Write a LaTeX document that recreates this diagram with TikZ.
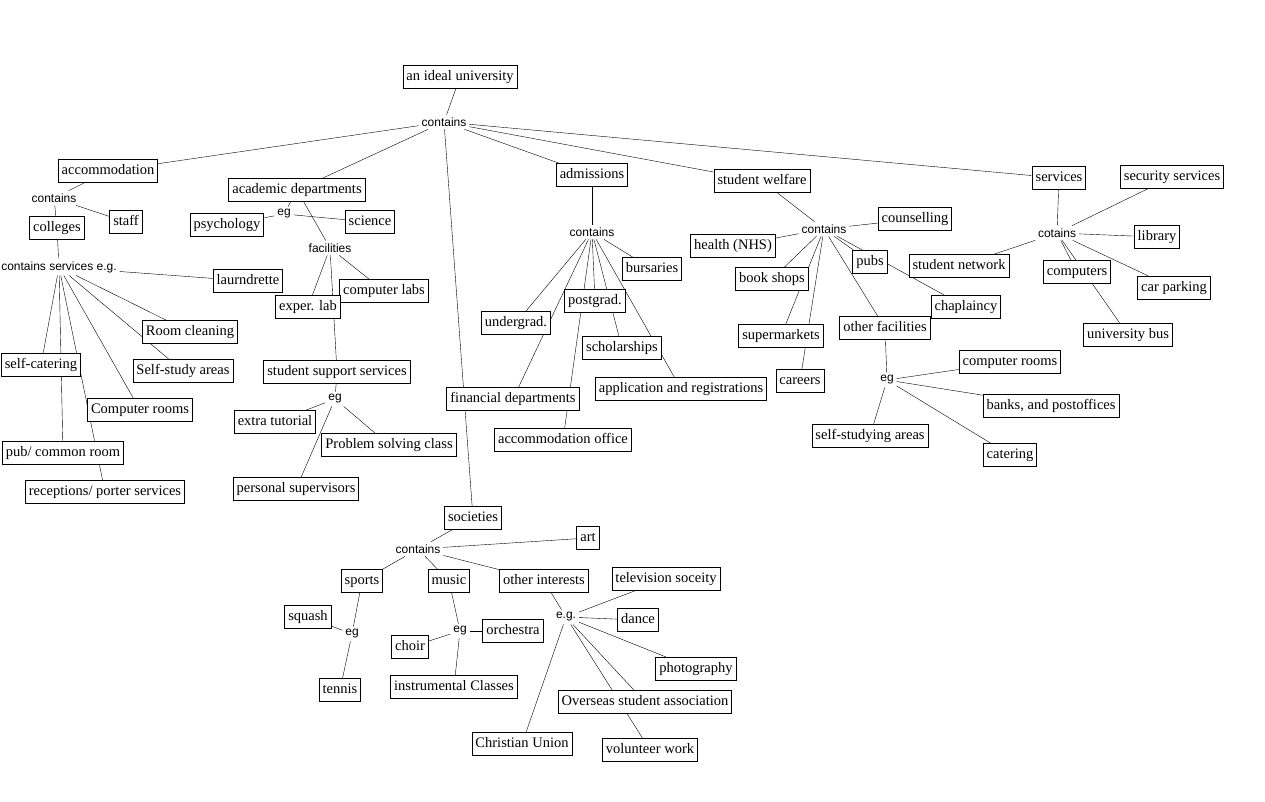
\documentclass[tikz,border=0pt]{standalone}
\usepackage{fontspec}
\setmainfont{Liberation Serif}
\setsansfont{Liberation Sans}
\usetikzlibrary{backgrounds}

\begin{document}
\begin{tikzpicture}[x=1pt,y=-1pt,line width=0.9pt,
    box/.style={draw,fill=white,font=\fontsize{14.5}{17}\selectfont,inner xsep=3.5pt,inner ysep=0pt,text height=10.5pt,text depth=3pt,minimum height=23pt},
    lbl/.style={font=\sffamily\fontsize{12}{14}\selectfont,inner sep=2.5pt}]
    \useasboundingbox (0,0) rectangle (1265,802);

    % top
    \node[box] (u) at (460,77) {an ideal university};
    \node[lbl] (c0) at (444,122) {contains};

    % accommodation
    \node[box] (acc) at (108,171) {accommodation};
    \node[lbl] (c1) at (54,198) {contains};
    \node[box] (staff) at (126,222) {staff};
    \node[box] (coll) at (57,228) {colleges};
    \node[lbl] (c2) at (59,267) {contains services e.g.};
    \node[box] (laun) at (248,281) {laurndrette};
    \node[box] (clean) at (190,332) {Room cleaning};
    \node[box] (sstudy) at (183,371) {Self-study areas};
    \node[box] (scat) at (41,365) {self-catering};
    \node[box] (crooms) at (140,410) {Computer rooms};
    \node[box] (pub) at (63,453) {pub/ common room};
    \node[box] (recep) at (105,492) {receptions/ porter services};

    % academic departments
    \node[box] (acad) at (297,190) {academic departments};
    \node[lbl] (eg1) at (284,214) {eg};
    \node[box] (psy) at (227,225) {psychology};
    \node[box] (sci) at (370,222) {science};
    \node[lbl] (fac) at (330,248) {facilities};
    \node[box] (clabs) at (384,291) {computer labs};
    \node[box] (exp) at (308,307) {exper. lab};
    \node[box] (ssup) at (337,372) {student support services};
    \node[lbl] (eg2) at (335,399) {eg};
    \node[box] (tut) at (275,422) {extra tutorial};
    \node[box] (prob) at (389,445) {Problem solving class};
    \node[box] (pers) at (296,489) {personal supervisors};

    % admissions
    \node[box] (adm) at (592,175) {admissions};
    \node[lbl] (c3) at (592,232) {contains};
    \node[box] (burs) at (652,269) {bursaries};
    \node[box] (fin) at (513,399) {financial departments};
    \node[box] (pg) at (595,301) {postgrad.};
    \node[box] (ug) at (516,323) {undergrad.};
    \node[box] (schol) at (622,348) {scholarships};
    \node[box] (appl) at (681,389) {application and registrations};
    \node[box] (aoff) at (563,440) {accommodation office};

    % student welfare
    \node[box] (welf) at (762,181) {student welfare};
    \node[lbl] (c4) at (824,229) {contains};
    \node[box] (couns) at (915,219) {counselling};
    \node[box] (nhs) at (733,246) {health (NHS)};
    \node[box] (books) at (772,279) {book shops};
    \node[box] (pubs) at (870,262) {pubs};
    \node[box] (snet) at (959,266) {student network};
    \node[box] (chap) at (966,307) {chaplaincy};
    \node[box] (smkt) at (781,336) {supermarkets};
    \node[box] (ofac) at (885,328) {other facilities};
    \node[box] (car) at (800,381) {careers};
    \node[lbl] (eg3) at (887,380) {eg};
    \node[box] (croom) at (1010,362) {computer rooms};
    \node[box] (bank) at (1051,406) {banks, and postoffices};
    \node[box] (sarea) at (870,436) {self-studying areas};
    \node[box] (cater) at (1010,455) {catering};

    % services
    \node[box] (serv) at (1059,178) {services};
    \node[lbl] (c5) at (1057,233) {cotains};
    \node[box] (sec) at (1172,177) {security services};
    \node[box] (lib) at (1157,237) {library};
    \node[box] (comp) at (1077,272) {computers};
    \node[box] (park) at (1174,288) {car parking};
    \node[box] (bus) at (1128,335) {university bus};

    % societies
    \node[box] (soc) at (473,518) {societies};
    \node[lbl] (c6) at (418,549) {contains};
    \node[box] (art) at (588,538) {art};
    \node[box] (sport) at (362,581) {sports};
    \node[box] (mus) at (449,581) {music};
    \node[box] (oint) at (544,581) {other interests};
    \node[box] (squash) at (308,617) {squash};
    \node[lbl] (eg4) at (352,634) {eg};
    \node[box] (tennis) at (340,690) {tennis};
    \node[lbl] (eg5) at (460,631) {eg};
    \node[box] (choir) at (410,647) {choir};
    \node[box] (orch) at (513,631) {orchestra};
    \node[box] (instr) at (454,687) {instrumental Classes};
    \node[lbl] (eg6) at (566,617) {e.g.};
    \node[box] (tv) at (666,579) {television soceity};
    \node[box] (dance) at (638,620) {dance};
    \node[box] (photo) at (696,669) {photography};
    \node[box] (osa) at (645,702) {Overseas student association};
    \node[box] (cu) at (522,744) {Christian Union};
    \node[box] (vol) at (650,750) {volunteer work};

    \begin{pgfonlayer}{background}
    \fill[white] (0,0) rectangle (1265,802);
    \draw (u)--(c0);
    \draw (c0)--(acc);
    \draw (c0)--(acad);
    \draw (c0)--(adm);
    \draw (c0)--(welf);
    \draw (c0)--(serv);
    \draw (c0)--(soc);

    \draw (acc)--(c1);
    \draw (c1)--(coll);
    \draw (c1)--(staff);
    \draw (coll)--(c2);
    \draw (c2)--(laun);
    \draw (c2)--(clean);
    \draw (c2)--(sstudy);
    \draw (c2)--(scat);
    \draw (c2)--(crooms);
    \draw (c2)--(pub);
    \draw (c2)--(recep);

    \draw (acad)--(eg1);
    \draw (eg1)--(psy);
    \draw (eg1)--(sci);
    \draw (acad)--(fac);
    \draw (fac)--(exp);
    \draw (fac)--(clabs);
    \draw (fac)--(ssup);
    \draw (ssup)--(eg2);
    \draw (eg2)--(tut);
    \draw (eg2)--(prob);
    \draw (eg2)--(pers);

    \draw (adm)--(c3);
    \draw (c3)--(burs);
    \draw (c3)--(pg);
    \draw (c3)--(ug);
    \draw (c3)--(fin);
    \draw (c3)--(aoff);
    \draw (c3)--(schol);
    \draw (c3)--(appl);

    \draw (welf)--(c4);
    \draw (c4)--(couns);
    \draw (c4)--(nhs);
    \draw (c4)--(books);
    \draw (c4)--(smkt);
    \draw (c4)--(car);
    \draw (c4)--(ofac);
    \draw (c4)--(pubs);
    \draw (c4)--(chap);
    \draw (ofac)--(eg3);
    \draw (eg3)--(croom);
    \draw (eg3)--(bank);
    \draw (eg3)--(sarea);
    \draw (eg3)--(cater);

    \draw (serv)--(c5);
    \draw (c5)--(sec);
    \draw (c5)--(lib);
    \draw (c5)--(comp);
    \draw (c5)--(bus);
    \draw (c5)--(park);
    \draw (c5)--(snet);

    \draw (soc)--(c6);
    \draw (c6)--(art);
    \draw (c6)--(sport);
    \draw (c6)--(mus);
    \draw (c6)--(oint);
    \draw (sport)--(eg4);
    \draw (eg4)--(squash);
    \draw (eg4)--(tennis);
    \draw (mus)--(eg5);
    \draw (eg5)--(choir);
    \draw (eg5)--(orch);
    \draw (eg5)--(instr);
    \draw (oint)--(eg6);
    \draw (eg6)--(tv);
    \draw (eg6)--(dance);
    \draw (eg6)--(photo);
    \draw (eg6)--(osa);
    \draw (eg6)--(vol);
    \draw (eg6)--(cu);
    \end{pgfonlayer}
\end{tikzpicture}
\end{document}
